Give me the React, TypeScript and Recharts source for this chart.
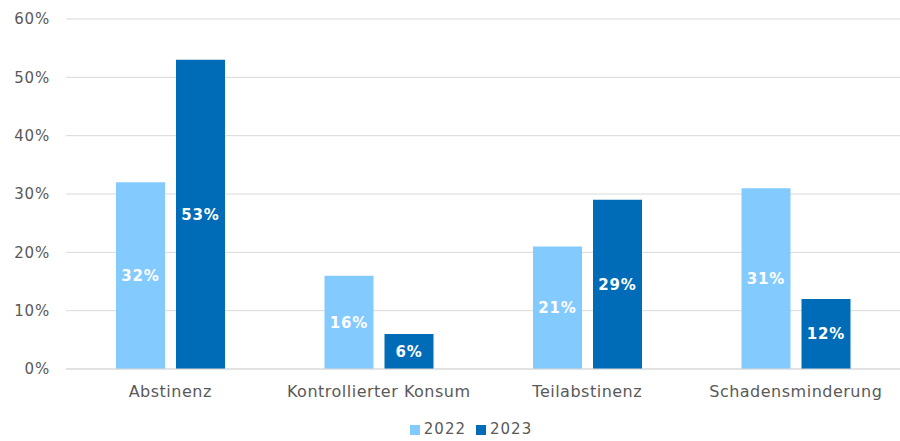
import React from 'react';
import { BarChart, Bar, XAxis, YAxis, CartesianGrid, Legend, LabelList } from 'recharts';

const categories = ['Abstinenz', 'Kontrollierter Konsum', 'Teilabstinenz', 'Schadensminderung'];
const values2022 = [32, 16, 21, 31];
const values2023 = [53, 6, 29, 12];
const yTicks = [0, 10, 20, 30, 40, 50, 60];

const data = categories.map((name, i) => ({ name, y2022: values2022[i], y2023: values2023[i] }));

const FONT = '"DejaVu Sans", sans-serif';
const pct = (v: number) => `${v}%`;

const CategoryTick = (props: any) => {
  const { x, y, payload } = props;
  return (
    <text
      x={x}
      y={y + 20}
      textAnchor="middle"
      fill="#595959"
      fontSize={16}
      fontFamily={FONT}
      style={{ letterSpacing: '0.5px' }}
    >
      {payload.value}
    </text>
  );
};

export default function App() {
  return (
    <div style={{ position: 'absolute', left: 0, top: 0, width: 900, height: 441, background: '#fff', fontFamily: FONT }}>
      <BarChart
        width={900}
        height={441}
        data={data}
        margin={{ top: 19, right: 0, left: 0, bottom: 0 }}
        barGap={11}
        barSize={49}
      >
        <CartesianGrid stroke="#d9d9d9" vertical={false} />
        <XAxis
          dataKey="name"
          height={48}
          tickLine={false}
          axisLine={{ stroke: '#d9d9d9' }}
          tick={<CategoryTick />}
          interval={0}
        />
        <YAxis
          width={66}
          domain={[0, 60]}
          ticks={yTicks}
          tickFormatter={pct}
          axisLine={false}
          tickLine={false}
          tick={{ fill: '#595959', fontSize: 15, fontFamily: FONT, letterSpacing: 0.8 }}
          tickMargin={10}
        />
        <Legend
          verticalAlign="bottom"
          height={24}
          iconType="square"
          iconSize={10}
          wrapperStyle={{ fontSize: 15, fontFamily: FONT, paddingLeft: 26, lineHeight: '24px', letterSpacing: 1 }}
          formatter={(v: string) => <span style={{ color: '#595959' }}>{v}</span>}
        />
        <Bar dataKey="y2022" name="2022" fill="#83CBFF" isAnimationActive={false}>
          <LabelList dataKey="y2022" position="center" formatter={pct} fill="#ffffff" fontSize={15} fontWeight="bold" fontFamily={FONT} letterSpacing={0.8} />
        </Bar>
        <Bar dataKey="y2023" name="2023" fill="#006CB7" isAnimationActive={false}>
          <LabelList dataKey="y2023" position="center" formatter={pct} fill="#ffffff" fontSize={15} fontWeight="bold" fontFamily={FONT} letterSpacing={0.8} />
        </Bar>
      </BarChart>
    </div>
  );
}
